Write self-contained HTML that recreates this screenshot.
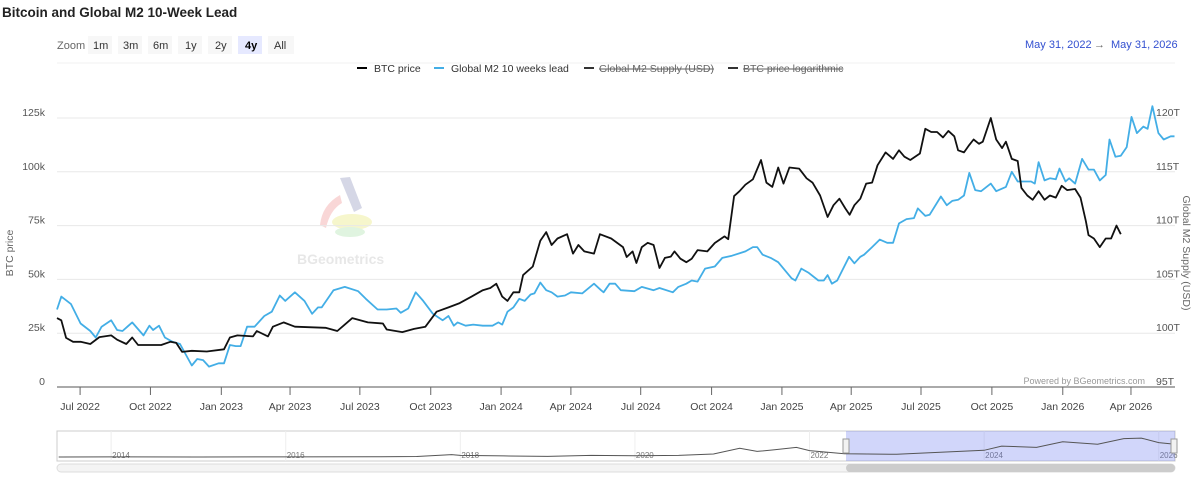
<!DOCTYPE html>
<html><head><meta charset="utf-8">
<style>
body{margin:0;background:#fff;font-family:"Liberation Sans",sans-serif;}
#wrap{position:relative;width:1200px;height:477px;overflow:hidden;}
</style></head>
<body>
<div id="wrap">
<svg id="chart" width="1200" height="477" xmlns="http://www.w3.org/2000/svg">
  <text x="2" y="17" font-size="13.5" font-weight="bold" fill="#222">Bitcoin and Global M2 10-Week Lead</text>
  <g font-size="11" fill="#333">
    <text x="57" y="49" fill="#666">Zoom</text>
    <g><rect x="88" y="36" width="24" height="18" fill="#f7f7f7"/><text x="93" y="49">1m</text></g>
    <g><rect x="118" y="36" width="24" height="18" fill="#f7f7f7"/><text x="123" y="49">3m</text></g>
    <g><rect x="148" y="36" width="24" height="18" fill="#f7f7f7"/><text x="153" y="49">6m</text></g>
    <g><rect x="178" y="36" width="24" height="18" fill="#f7f7f7"/><text x="185" y="49">1y</text></g>
    <g><rect x="208" y="36" width="24" height="18" fill="#f7f7f7"/><text x="215" y="49">2y</text></g>
    <g><rect x="238" y="36" width="24" height="18" fill="#e6e9ff"/><text x="245" y="49" font-weight="bold" fill="#000">4y</text></g>
    <g><rect x="268" y="36" width="26" height="18" fill="#f7f7f7"/><text x="274" y="49">All</text></g>
  </g>
  <line x1="57" y1="63" x2="1175" y2="63" stroke="#f0f0f0"/>
  <g font-size="11" fill="#3350d0">
    <text x="1025" y="48">May 31, 2022</text>
    <text x="1094" y="48" fill="#666">→</text>
    <text x="1111" y="48">May 31, 2026</text>
  </g>
  <g font-size="10.5">
    <g><line x1="357" y1="68" x2="367" y2="68" stroke="#000" stroke-width="2"/><text x="374" y="72" fill="#333">BTC price</text></g>
    <g><line x1="434" y1="68" x2="444" y2="68" stroke="#43aee6" stroke-width="2"/><text x="451" y="72" fill="#333">Global M2 10 weeks lead</text></g>
    <g><line x1="584" y1="68" x2="594" y2="68" stroke="#333" stroke-width="2"/><text x="599" y="72" fill="#666" text-decoration="line-through">Global M2 Supply (USD)</text></g>
    <g><line x1="728" y1="68" x2="738" y2="68" stroke="#333" stroke-width="2"/><text x="743" y="72" fill="#666" text-decoration="line-through">BTC price logarithmic</text></g>
  </g>
  <g id="watermark" opacity="0.35">
    <path d="M340,178 L350,177 L362,208 L354,212 Z" fill="#8890b8"/>
    <path d="M320,225 Q322,205 340,195 L342,203 Q330,210 326,228 Z" fill="#f09090"/>
    <ellipse cx="352" cy="222" rx="20" ry="8" fill="#e8e870"/>
    <ellipse cx="350" cy="232" rx="15" ry="5" fill="#a8e0a8"/>
    <text x="297" y="264" font-size="14" font-weight="bold" fill="#bbb">BGeometrics</text>
  </g>
  <g id="grid"></g>
  <g id="yleft" font-size="10.5" fill="#555" text-anchor="end"></g>
  <g id="yright" font-size="10.5" fill="#555"></g>
  <text transform="translate(13,253) rotate(-90)" font-size="10.5" fill="#666" text-anchor="middle">BTC price</text>
  <text transform="translate(1183,253) rotate(90)" font-size="10.5" fill="#666" text-anchor="middle">Global M2 Supply (USD)</text>
  <g id="xaxis" font-size="10.5" fill="#444" text-anchor="middle"></g>
  <g id="series"></g>
  <text x="1145" y="384" font-size="9" fill="#999" text-anchor="end">Powered by BGeometrics.com</text>
  <g id="nav"></g>
</svg>
</div>
<script>
// ---- data (weeks since 2022-06-01, BTC price in k USD, Global M2 in T USD) ----
const btcWeeks=[0,0.8,1.7,3.0,4.4,6.2,7.9,10.1,11.2,12.9,14.0,15.1,19.4,21.1,22.2,23.3,25.1,27.9,31.1,32.2,33.6,36.5,37.2,39.3,40.2,42.2,44.3,50.0,52.2,53.6,55.0,57.9,60.7,61.4,64.3,66.5,68.6,70.7,72.9,75.0,77.2,79.3,80.7,81.8,82.9,83.9,85.0,86.1,86.8,88.6,90.0,91.1,92.1,93.2,95.0,96.1,97.1,98.2,100.0,101.1,103.2,105.4,106.1,107.2,107.9,108.9,110.0,111.1,112.2,113.2,114.3,115.0,116.1,117.2,118.2,119.3,121.1,122.5,124.3,125.0,126.1,127.1,128.2,129.6,131.1,132.1,133.2,134.3,135.3,136.4,138.2,139.6,140.7,142.1,143.5,144.6,145.7,146.8,147.6,148.5,149.6,150.7,151.8,152.8,154.3,155.7,156.8,157.8,158.9,160.7,161.7,162.8,163.9,165.0,166.0,167.1,167.8,168.9,169.9,170.7,171.7,172.4,173.9,174.9,176.0,176.7,177.8,178.9,179.6,180.7,181.7,182.8,183.9,184.9,186.0,187.1,188.1,189.6,190.6,191.6,192.1,193.1,194.2,195.3,196.3,197.3,198.1];
const btcPrice=[32,31,22.8,21,21,20,23.2,24,22,20,23,19.5,19.5,21,20.5,16.3,16.8,16.5,17.5,23,24,23.5,26,23.5,28,30,28,27.5,26,29,32,30,29.5,26.7,25.5,27,28,35,37,39,42,45,46,48,42,40,44,44,52,56,68,72,66,69,71,62,66,63,62,71,69,65,60.4,63,57.6,65,67,66,55.3,60,60.6,63,59.6,58,59.6,63.6,63,66.9,70,68.7,88.7,91,94,96.5,105.5,95,93,102,94.5,102,101.5,97,95,89,79,84.5,87.5,83,80,84.5,87.5,94.5,95,103,109,106,110,107,105.5,108.5,120,118.5,118.5,116,119,116.5,110,109,112.5,115,113,114,125,115,111,114,106,105,92.5,89,87,91,87,89,88,93.5,91.5,92,88,77,70.6,69,65,69,69,75,71];
const m2Weeks=[0,0.8,2.6,4.4,6.2,7.2,8.3,10.1,11.2,12.2,14.0,16.1,17.2,17.9,19.0,20.1,21.5,22.9,25.1,26.1,27.2,28.3,30.1,31.1,32.2,33.3,34.2,35.4,36.8,38.6,40.0,41.5,42.5,44.3,46.1,47.5,48.6,49.3,51.5,53.6,56.1,57.5,59.7,61.4,63.2,64.0,65.4,66.8,68.2,70.0,71.8,72.9,73.9,74.6,76.1,77.5,79.3,81.1,82.2,82.9,83.9,85.0,86.1,87.1,88.2,88.9,90.0,91.1,92.1,93.2,94.6,95.7,97.8,100.0,101.3,101.8,102.9,103.95,105.0,107.5,108.9,111.1,112.2,114.7,115.7,117.2,118.2,119.3,120.7,122.5,123.9,125.7,128.2,129.6,130.4,131.4,132.9,134.3,135.3,136.8,137.5,138.6,140.0,141.8,142.8,143.5,144.3,145.3,147.5,148.5,149.6,150.3,151.8,153.2,154.6,155.7,156.8,158.2,159.6,160.3,161.7,162.5,164.6,165.7,166.7,167.8,168.9,169.9,171.0,172.1,173.9,174.9,176.7,177.8,178.9,181.4,182.1,182.8,183.9,184.9,186.0,186.7,187.8,188.5,189.6,190.9,192.1,193.1,194.2,195.3,196.0,197.1,198.1,199.2,200.1,201.1,202.3,203.1,204.0,205.1,206.1,207.4,208.1];
const m2Supply=[102.2,103.4,102.7,100.9,100.2,99.6,100.6,101.2,100.3,100.2,101.0,99.8,100.7,100.3,100.7,99.6,99.2,99.0,97.0,97.6,97.5,96.9,97.2,97.2,98.9,98.8,98.8,100.6,100.6,101.6,102.0,103.5,103.0,103.8,103.0,101.8,102.4,102.4,104.0,104.3,103.9,103.2,102.2,102.2,102.3,101.9,102.3,103.8,103.0,101.8,101.2,101.6,100.7,101.0,100.7,100.8,100.7,100.7,101.0,100.8,102.0,102.4,103.2,103.0,103.6,103.7,104.7,104.0,103.8,103.4,103.5,103.8,103.7,104.6,104.0,103.8,104.6,104.6,104.0,103.9,104.3,104.0,104.2,103.8,104.3,104.6,104.9,104.8,106.0,106.2,107.0,107.2,107.6,108.0,108.0,107.3,107.0,106.6,106.0,105.1,104.9,106.0,105.6,104.9,104.9,105.4,104.6,104.9,107.1,106.5,107.1,107.3,108.0,108.7,108.4,108.4,110.2,110.6,110.7,111.6,110.9,111.0,112.7,111.9,112.3,112.4,112.8,114.9,113.3,113.2,113.9,113.2,113.6,115.0,114.1,114.1,113.9,115.9,114.2,114.4,114.3,115.3,114.1,114.4,113.9,116.2,115.2,115.2,114.2,114.7,118.0,116.4,116.5,117.3,120.1,118.6,119.2,119.0,121.1,118.6,118.0,118.3,118.3];
const leftTicks=[0,25,50,75,100,125];
const leftTickLabels=["0","25k","50k","75k","100k","125k"];
const rightTicks=[95,100,105,110,115,120];
const rightTickLabels=["95T","100T","105T","110T","115T","120T"];
const xTickWeeks=[4.3,17.4,30.6,43.4,56.4,69.6,82.7,95.7,108.7,121.9,135.0,147.9,160.9,174.1,187.3,200.0];
const xTickLabels=["Jul 2022","Oct 2022","Jan 2023","Apr 2023","Jul 2023","Oct 2023","Jan 2024","Apr 2024","Jul 2024","Oct 2024","Jan 2025","Apr 2025","Jul 2025","Oct 2025","Jan 2026","Apr 2026"];
const navYears=[2013.4,2014,2015,2016,2017,2017.5,2017.9,2018,2018.5,2019,2019.5,2020,2020.5,2020.9,2021.2,2021.4,2021.6,2021.85,2022,2022.4,2023,2023.5,2024,2024.2,2024.6,2024.9,2025.3,2025.6,2025.8,2026,2026.4];
const navValues=[0.1,0.5,0.3,0.5,1,3,15,10,7,4,10,8,10,19,55,35,45,60,40,20,17,30,42,68,60,95,80,115,118,90,80];
const navTickYears=[2014,2016,2018,2020,2022,2024,2026];

// ---- scales ----
const X0=57,X1=1175,WMAX=208.2,Y0=387,YTOP=118;
function xs(w){return X0+(w/WMAX)*(X1-X0);}
function yl(v){return Y0-(v/125)*(Y0-YTOP);}
function yr(t){return Y0-((t-95)/25)*(Y0-YTOP);}
const NS='http://www.w3.org/2000/svg';
function mk(tag,attrs,parent){const e=document.createElementNS(NS,tag);for(const k in attrs)e.setAttribute(k,attrs[k]);parent.appendChild(e);return e;}

const grid=document.getElementById('grid'),ylg=document.getElementById('yleft'),yrg=document.getElementById('yright');
leftTicks.forEach((v,i)=>{
  const y=yl(v);
  if(v>0){const g=mk('line',{x1:X0,x2:X1,y1:y,y2:y,stroke:'#e8e8e8'},grid);
    
    }
  const t=mk('text',{x:45,y:y-2},ylg);t.textContent=leftTickLabels[i];
  
  
});
rightTicks.forEach((v,i)=>{
  const t=mk('text',{x:1156,y:yr(v)-2},yrg);t.textContent=rightTickLabels[i];
  
  
});
const xa=document.getElementById('xaxis');
const axl=mk('line',{x1:X0,x2:X1,y1:Y0,y2:Y0,stroke:'#555'},xa);


xTickWeeks.forEach((w,i)=>{
  const x=xs(w);
  const tk=mk('line',{x1:x,x2:x,y1:Y0,y2:Y0+8,stroke:'#666'},xa);
  
  
  const t=mk('text',{x:x,y:410},xa);t.textContent=xTickLabels[i];
  
  
});
const sg=document.getElementById('series');
const m2p=mk('path',{d:m2Weeks.map((w,i)=>(i?'L':'M')+xs(w).toFixed(1)+','+yr(m2Supply[i]).toFixed(1)).join(''),fill:'none',stroke:'#43aee6','stroke-width':1.8,'stroke-linejoin':'round'},sg);


const bp=mk('path',{d:btcWeeks.map((w,i)=>(i?'L':'M')+xs(w).toFixed(1)+','+yl(btcPrice[i]).toFixed(1)).join(''),fill:'none',stroke:'#111','stroke-width':1.8,'stroke-linejoin':'round'},sg);



// ---- navigator ----
const nav=document.getElementById('nav');
const NY0=2013.38,NPX=87.3,NTOP=431,NBOT=461;
function nx(y){return Math.min(X1,X0+(y-NY0)*NPX);}
function ny(v){return NBOT-4-(v/125)*(NBOT-NTOP-10);}
const nb=mk('rect',{x:X0,y:NTOP,width:X1-X0,height:NBOT-NTOP,fill:'#fff',stroke:'#ccc'},nav);


navTickYears.forEach(yv=>{
  const x=nx(yv);
  const l=mk('line',{x1:x,x2:x,y1:NTOP,y2:NBOT,stroke:'#eee'},nav);
  
  
  const t=mk('text',{x:x+1,y:NBOT-3,'font-size':8,fill:'#777'},nav);t.textContent=yv;
  
  
});
const sel=mk('rect',{x:846,y:NTOP,width:X1-846,height:NBOT-NTOP,fill:'rgba(102,120,240,0.3)'},nav);


const nl=mk('path',{d:navYears.map((y,i)=>(i?'L':'M')+nx(y).toFixed(1)+','+ny(navValues[i]).toFixed(1)).join(''),fill:'none',stroke:'#555','stroke-width':1},nav);


[846,1174].forEach((x,i)=>{
  const h=mk('rect',{x:x-3,y:439,width:6,height:14,fill:'#f2f2f2',stroke:'#999'},nav);
  
  
});
const sb=mk('rect',{x:X0,y:464,width:X1-X0,height:8,rx:4,fill:'#f4f4f4',stroke:'#ddd'},nav);


const st=mk('rect',{x:846,y:464,width:X1-846,height:8,rx:4,fill:'#ccc'},nav);


</script>
</body></html>
